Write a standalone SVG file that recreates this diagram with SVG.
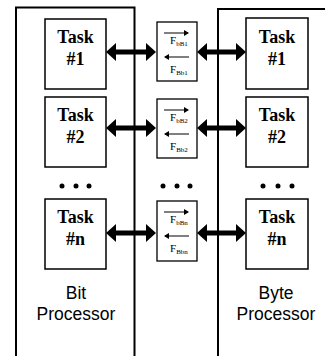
<svg xmlns="http://www.w3.org/2000/svg" width="325" height="356" viewBox="0 0 325 356">
<style>
.proc{fill:none;stroke:#000;stroke-width:2}
.task{fill:#fff;stroke:#000;stroke-width:1.5}
.fbox{fill:#fff;stroke:#000;stroke-width:1.3}
.tt{font-family:"Liberation Serif",serif;font-weight:bold;font-size:18px;text-anchor:middle;fill:#000}
.pl{font-family:"Liberation Sans",sans-serif;font-size:17.5px;text-anchor:middle;fill:#000}
.ft{font-family:"Liberation Serif",serif;font-size:11px;fill:#000}
.sub{font-size:7px}
.big{stroke:#000;stroke-width:5;fill:none}
.thin{stroke:#000;stroke-width:1;fill:none}
</style>
<defs>
<marker id="ah" markerUnits="userSpaceOnUse" markerWidth="10" markerHeight="18" refX="4" refY="9" orient="auto-start-reverse" viewBox="0 0 10 18">
<path d="M0,0 L10,9 L0,18 z" fill="#000"/>
</marker>
<marker id="sa" markerUnits="userSpaceOnUse" markerWidth="5" markerHeight="6" refX="4" refY="3" orient="auto" viewBox="0 0 5 6">
<path d="M0,0 L5,3 L0,6 z" fill="#000"/>
</marker>
</defs>
<g id="bit-processor">
<path class="proc" d="M16,360 V7.5 H134.5 V360"/>
<text class="pl" x="76" y="299">Bit</text>
<text class="pl" x="76" y="320">Processor</text>
</g>
<g id="byte-processor">
<path class="proc" d="M218,360 V9 H330"/>
<text class="pl" x="276" y="299">Byte</text>
<text class="pl" x="276" y="320">Processor</text>
</g>
<g id="bit-task1"><rect class="task" x="45" y="19" width="61" height="70"/><text class="tt" x="75.5" y="43">Task</text><text class="tt" x="75.5" y="65">#1</text></g>
<g id="bit-task2"><rect class="task" x="45" y="97" width="61" height="70"/><text class="tt" x="75.5" y="121">Task</text><text class="tt" x="75.5" y="143">#2</text></g>
<g id="bit-taskn"><rect class="task" x="45" y="199" width="61" height="70"/><text class="tt" x="75.5" y="223">Task</text><text class="tt" x="75.5" y="245">#n</text></g>
<g id="byte-task1"><rect class="task" x="246" y="18" width="62" height="71"/><text class="tt" x="277" y="43">Task</text><text class="tt" x="277" y="65">#1</text></g>
<g id="byte-task2"><rect class="task" x="246" y="97" width="62" height="70"/><text class="tt" x="277" y="121">Task</text><text class="tt" x="277" y="143">#2</text></g>
<g id="byte-taskn"><rect class="task" x="246" y="199" width="62" height="70"/><text class="tt" x="277" y="223">Task</text><text class="tt" x="277" y="245">#n</text></g>
<g id="flag1">
<rect class="fbox" x="157" y="22" width="40" height="59"/>
<line class="thin" x1="164" y1="33" x2="188" y2="33" marker-end="url(#sa)"/>
<text class="ft" x="170" y="44">F<tspan class="sub" dy="1.5">bB1</tspan></text>
<line class="thin" x1="189" y1="57" x2="165" y2="57" marker-end="url(#sa)"/>
<text class="ft" x="170" y="73">F<tspan class="sub" dy="1.5">Bb1</tspan></text>
</g>
<g id="flag2">
<rect class="fbox" x="157" y="99" width="40" height="59"/>
<line class="thin" x1="164" y1="110" x2="188" y2="110" marker-end="url(#sa)"/>
<text class="ft" x="170" y="121">F<tspan class="sub" dy="1.5">bB2</tspan></text>
<line class="thin" x1="189" y1="134" x2="165" y2="134" marker-end="url(#sa)"/>
<text class="ft" x="170" y="150">F<tspan class="sub" dy="1.5">Bb2</tspan></text>
</g>
<g id="flagn">
<rect class="fbox" x="157" y="201" width="40" height="60"/>
<line class="thin" x1="164" y1="212" x2="188" y2="212" marker-end="url(#sa)"/>
<text class="ft" x="170" y="223">F<tspan class="sub" dy="1.5">bBn</tspan></text>
<line class="thin" x1="189" y1="236" x2="165" y2="236" marker-end="url(#sa)"/>
<text class="ft" x="170" y="252">F<tspan class="sub" dy="1.5">Bbn</tspan></text>
</g>
<g id="dots" fill="#000">
<circle cx="62" cy="186" r="2.5"/><circle cx="76" cy="186" r="2.5"/><circle cx="89" cy="186" r="2.5"/>
<circle cx="163" cy="186" r="2.5"/><circle cx="177" cy="186" r="2.5"/><circle cx="190" cy="186" r="2.5"/>
<circle cx="263" cy="186" r="2.5"/><circle cx="278" cy="186" r="2.5"/><circle cx="292" cy="186" r="2.5"/>
</g>
<g id="connectors">
<line class="big" x1="112" y1="52" x2="150" y2="52" marker-start="url(#ah)" marker-end="url(#ah)"/>
<line class="big" x1="203" y1="52" x2="240" y2="52" marker-start="url(#ah)" marker-end="url(#ah)"/>
<line class="big" x1="112" y1="128" x2="150" y2="128" marker-start="url(#ah)" marker-end="url(#ah)"/>
<line class="big" x1="203" y1="128" x2="240" y2="128" marker-start="url(#ah)" marker-end="url(#ah)"/>
<line class="big" x1="112" y1="233" x2="150" y2="233" marker-start="url(#ah)" marker-end="url(#ah)"/>
<line class="big" x1="203" y1="233" x2="240" y2="233" marker-start="url(#ah)" marker-end="url(#ah)"/>
</g>
</svg>
